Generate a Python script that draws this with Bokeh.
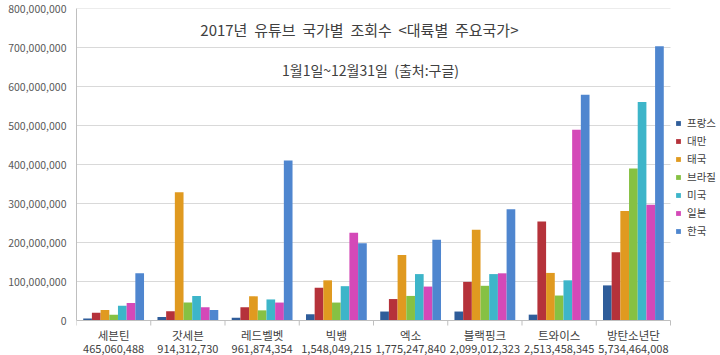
from bokeh.plotting import figure
from bokeh.models import (ColumnDataSource, FixedTicker, Legend, LegendItem, Label,
                          NumeralTickFormatter, Range1d)
from bokeh.core.properties import value
from bokeh.embed import file_html
from bokeh.resources import INLINE

FONT = "Noto Sans CJK KR"

groups = ["세븐틴", "갓세븐", "레드벨벳", "빅뱅", "엑소", "블랙핑크", "트와이스", "방탄소년단"]
totals = ["465,060,488", "914,312,730", "961,874,354", "1,548,049,215",
          "1,775,247,840", "2,099,012,323", "2,513,458,345", "5,734,464,008"]
countries = ["프랑스", "대만", "태국", "브라질", "미국", "일본", "한국"]

france = [5e6, 9e6, 7e6, 16e6, 23e6, 23e6, 15e6, 90e6]
taiwan = [20e6, 24e6, 34e6, 84e6, 55e6, 99e6, 254e6, 175e6]
thailand = [27e6, 329e6, 62e6, 103e6, 168e6, 233e6, 122e6, 281e6]
brazil = [15e6, 46e6, 26e6, 46e6, 63e6, 89e6, 64e6, 390e6]
usa = [38e6, 63e6, 54e6, 88e6, 119e6, 119e6, 103e6, 560e6]
japan = [45e6, 34e6, 46e6, 225e6, 87e6, 121e6, 489e6, 297e6]
korea = [121e6, 27e6, 410e6, 198e6, 207e6, 285e6, 579e6, 703e6]

y_ticks = [k * 100e6 for k in range(9)]

series = [france, taiwan, thailand, brazil, usa, japan, korea]
colors = ["#2F5D9A", "#B5323A", "#E09A20", "#86C143", "#3DB5C9", "#D449B8", "#4F86CF"]

S = " \u00a0"
title_text = f"2017년{S}유튜브{S}국가별{S}조회수{S}<대륙별{S}주요국가>"
subtitle_text = f"1월1일~12월31일{S}(출처:구글)"

# layout geometry (pixels)
W, H = 720, 355
LEFT, TOP = 76, 8
PLOT_W, PLOT_H = 594, 312          # category area / value area in pixels
n = len(groups)
YMAX = y_ticks[-1]
px_x = n / PLOT_W
px_y = YMAX / PLOT_H
x_end = (W - LEFT) * px_x
y_start = -(H - TOP - PLOT_H) * px_y

p = figure(width=W, height=H, output_backend="svg", toolbar_location=None,
           x_range=Range1d(0, x_end), y_range=Range1d(y_start, YMAX),
           x_axis_location=None,
           min_border_left=LEFT, min_border_right=0, min_border_top=TOP, min_border_bottom=0)
p.outline_line_color = None
p.background_fill_color = "white"
p.border_fill_color = "white"
p.xgrid.visible = False
p.ygrid.visible = False

# horizontal gridlines over the category area
p.segment(x0=[0] * (len(y_ticks) - 1), x1=[n] * (len(y_ticks) - 1), y0=y_ticks[1:], y1=y_ticks[1:],
          line_color="#D9D9D9", line_width=1)

bw = 0.117
items = []
for j, (name, vals, col) in enumerate(zip(countries, series, colors)):
    xs = [i + 0.5 + (j - 3) * bw for i in range(n)]
    src = ColumnDataSource(dict(x=xs, top=vals))
    r = p.vbar(x="x", top="top", width=bw, source=src, fill_color=col, line_color=None)
    items.append(LegendItem(label=name, renderers=[r]))

# category axis line + boundary ticks
p.segment(x0=[0], x1=[n], y0=[0], y1=[0], line_color="#BFBFBF", line_width=1)
p.segment(x0=list(range(n + 1)), x1=list(range(n + 1)), y0=[0] * (n + 1), y1=[-5 * px_y] * (n + 1),
          line_color="#BFBFBF", line_width=1)

# category labels
centers = [i + 0.5 for i in range(n)]
lab_src = ColumnDataSource(dict(x=centers, y=[0] * n, name=groups, total=totals))
p.text(x="x", y="y", text="name", source=lab_src, y_offset=14, text_align="center",
       text_baseline="middle", text_font=value(FONT), text_font_size="11.5px", text_color="#404040")
p.text(x="x", y="y", text="total", source=lab_src, y_offset=28, text_align="center",
       text_baseline="middle", text_font=value(FONT), text_font_size="11px", text_color="#404040")

# y axis
p.yaxis.ticker = FixedTicker(ticks=y_ticks)
p.yaxis.bounds = (0, YMAX)
p.yaxis.formatter = NumeralTickFormatter(format="0,0")
p.yaxis.major_label_text_font = FONT
p.yaxis.major_label_text_font_size = "10.5px"
p.yaxis.major_label_text_color = "#595959"
p.yaxis.major_tick_line_color = None
p.yaxis.major_tick_out = 0
p.yaxis.minor_tick_line_color = None
p.yaxis.axis_line_color = "#BFBFBF"
p.yaxis.major_label_standoff = 10

legend = Legend(items=items, location=(599, 117), orientation="vertical",
                glyph_width=6, glyph_height=6, label_height=15, spacing=3,
                label_standoff=6, padding=0, margin=0,
                label_text_font=FONT, label_text_font_size="10.5px", label_text_color="#404040",
                border_line_color=None, background_fill_alpha=0)
p.add_layout(legend, "center")

p.add_layout(Label(x=3.81, y=H - TOP - 21, y_units="screen", text=title_text,
                   text_align="center", text_baseline="middle", text_font=FONT,
                   text_font_size="15px", text_color="#404040"))
p.add_layout(Label(x=3.96, y=H - TOP - 61, y_units="screen", text=subtitle_text,
                   text_align="center", text_baseline="middle", text_font=FONT,
                   text_font_size="14px", text_color="#404040"))

open("out.html", "w").write(file_html(p, INLINE))
